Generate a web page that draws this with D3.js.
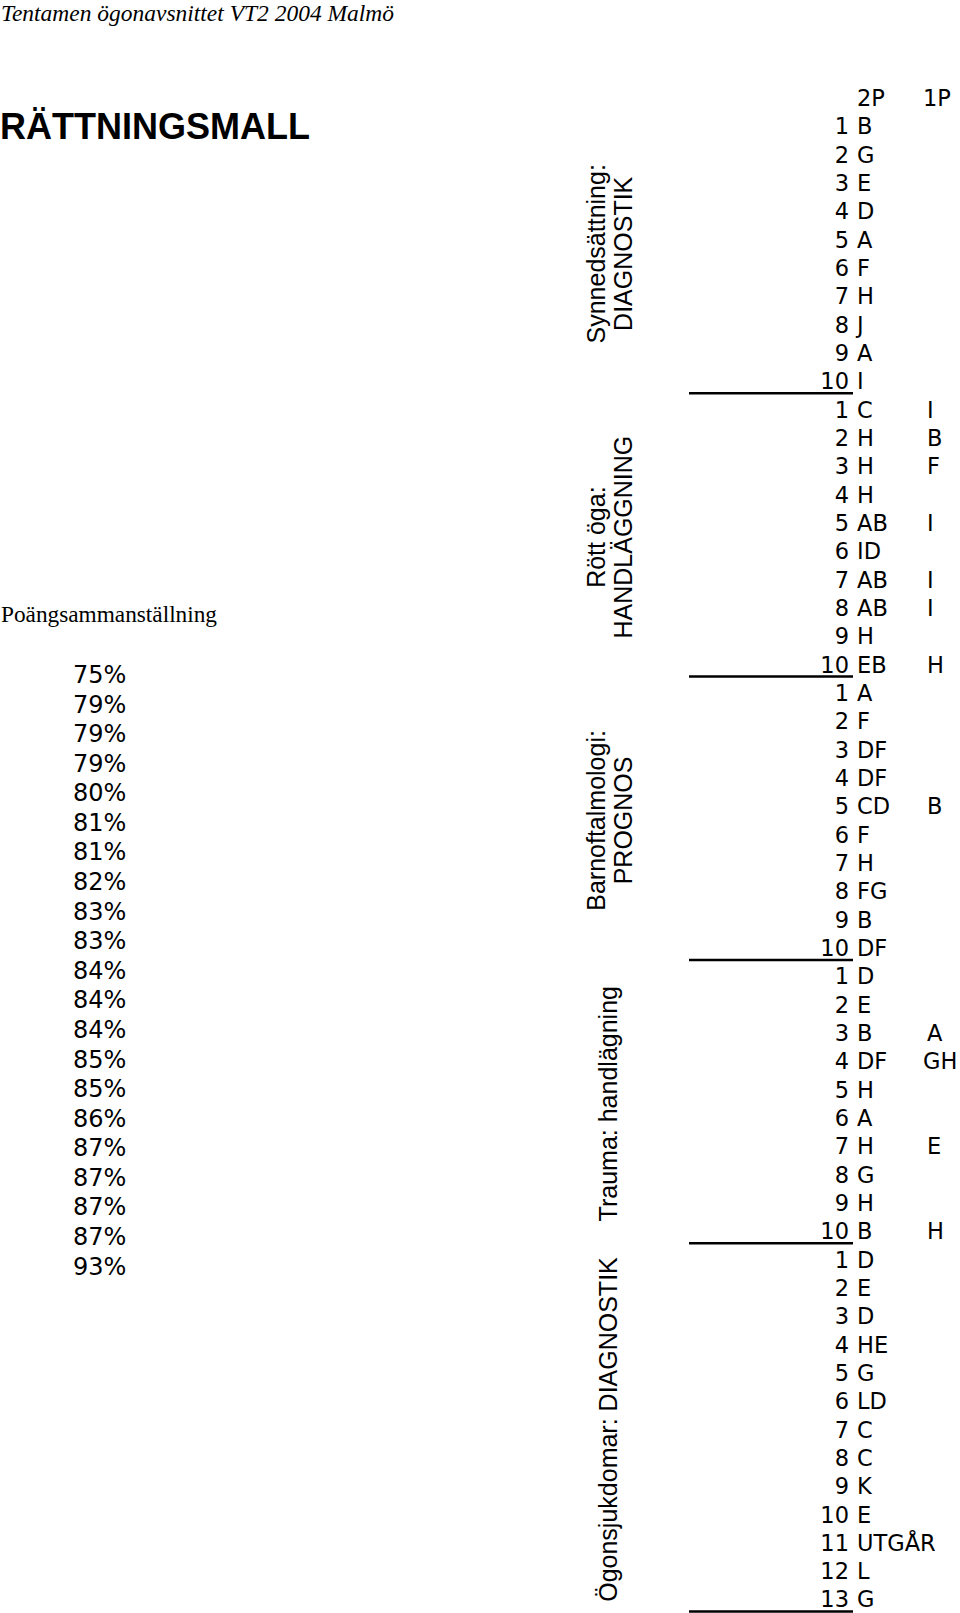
<!DOCTYPE html>
<html>
<head>
<meta charset="utf-8">
<script src="https://cdn.jsdelivr.net/npm/d3@7"></script>
<style>
  html, body { margin: 0; padding: 0; background: #fff; }
  svg { display: block; }
</style>
</head>
<body>
<div id="chart"></div>
<script>
// ---------- data ----------
const pageTitle = "Tentamen ögonavsnittet VT2 2004 Malmö";
const heading = "RÄTTNINGSMALL";
const summaryTitle = "Poängsammanställning";
const percentages = [75, 79, 79, 79, 80, 81, 81, 82, 83, 83, 84, 84, 84, 85, 85, 86, 87, 87, 87, 87, 93];

const columnHeaders = ["2P", "1P"];
const groupLabels = [
  ["Synnedsättning:", "DIAGNOSTIK"],
  ["Rött öga:", "HANDLÄGGNING"],
  ["Barnoftalmologi:", "PROGNOS"],
  ["Trauma: handlägning"],
  ["Ögonsjukdomar: DIAGNOSTIK"]
];
const answers2P = [
  ["B", "G", "E", "D", "A", "F", "H", "J", "A", "I"],
  ["C", "H", "H", "H", "AB", "ID", "AB", "AB", "H", "EB"],
  ["A", "F", "DF", "DF", "CD", "F", "H", "FG", "B", "DF"],
  ["D", "E", "B", "DF", "H", "A", "H", "G", "H", "B"],
  ["D", "E", "D", "HE", "G", "LD", "C", "C", "K", "E", "UTGÅR", "L", "G"]
];
const answers1P = [
  ["", "", "", "", "", "", "", "", "", ""],
  ["I", "B", "F", "", "I", "", "I", "I", "", "H"],
  ["", "", "", "", "B", "", "", "", "", ""],
  ["", "", "A", "GH", "", "", "E", "", "", "H"],
  ["", "", "", "", "", "", "", "", "", "", "", "", ""]
];

// ---------- layout ----------
const W = 960, H = 1613;
const svg = d3.select("#chart").append("svg").attr("width", W).attr("height", H);

const sans = "'DejaVu Sans', Verdana, sans-serif";
const arial = "'Liberation Sans', Arial, sans-serif";
const serif = "'Liberation Serif', 'Times New Roman', serif";

// header texts
svg.append("text")
  .attr("x", 1).attr("y", 21)
  .attr("font-family", serif).attr("font-style", "italic").attr("font-size", 23)
  .attr("textLength", 393).attr("lengthAdjust", "spacingAndGlyphs")
  .text(pageTitle);

svg.append("text")
  .attr("x", 0).attr("y", 139)
  .attr("font-family", arial).attr("font-weight", "bold").attr("font-size", 36)
  .text(heading);

svg.append("text")
  .attr("x", 1).attr("y", 622)
  .attr("font-family", serif).attr("font-size", 23)
  .attr("textLength", 216).attr("lengthAdjust", "spacingAndGlyphs")
  .text(summaryTitle);

// percentages list
const yPct = d3.scaleLinear().domain([0, percentages.length - 1]).range([683, 1274.6]);
svg.append("g").selectAll("text").data(percentages).join("text")
  .attr("x", 73)
  .attr("y", (d, i) => yPct(i))
  .attr("font-family", sans).attr("font-size", 24)
  .text(d => d + "%");

// answer table
const totalRows = 1 + d3.sum(answers2P, a => a.length); // header + all questions
const yRow = d3.scaleLinear().domain([0, totalRows - 1]).range([106, 106 + 28.33 * (totalRows - 1)]);
const xNum = 849, x2P = 857, x1P = 927;

const table = svg.append("g").attr("font-family", sans).attr("font-size", 22.5);

// column headers
table.append("text").attr("x", x2P).attr("y", yRow(0)).text(columnHeaders[0]);
table.append("text").attr("x", x1P - 4).attr("y", yRow(0)).text(columnHeaders[1]);

let start = 1;
const groups = [];
answers2P.forEach((ans, g) => {
  const rows = ans.map((a, k) => ({ g, k, num: k + 1, a2: a, a1: answers1P[g][k], r: start + k }));
  groups.push({ g, first: start, last: start + ans.length - 1, labels: groupLabels[g] });
  start += ans.length;
  const gg = table.append("g");
  gg.selectAll("text.num").data(rows).join("text").attr("class", "num")
    .attr("x", xNum).attr("y", d => yRow(d.r)).attr("text-anchor", "end").text(d => d.num);
  gg.selectAll("text.a2").data(rows).join("text").attr("class", "a2")
    .attr("x", x2P).attr("y", d => yRow(d.r)).text(d => d.a2);
  gg.selectAll("text.a1").data(rows.filter(d => d.a1)).join("text").attr("class", "a1")
    .attr("x", d => d.a1.length > 1 ? x1P - 4 : x1P).attr("y", d => yRow(d.r)).text(d => d.a1);
});

// separator lines under each group
svg.append("g").selectAll("line").data(groups).join("line")
  .attr("x1", 689).attr("x2", 853)
  .attr("y1", d => yRow(d.last) + 4).attr("y2", d => yRow(d.last) + 4)
  .attr("stroke", "#000").attr("stroke-width", 2.5);

// rotated group labels
const lab = svg.append("g").attr("font-family", arial).attr("font-size", 25);
groups.forEach(gr => {
  const cy = (yRow(gr.first) + yRow(gr.last)) / 2 - 8;
  const lines = gr.labels;
  const bases = lines.length === 2 ? [605, 632] : [617];
  lines.forEach((t, j) => {
    lab.append("text")
      .attr("transform", `translate(${bases[j]},${cy}) rotate(-90)`)
      .attr("text-anchor", "middle")
      .text(t);
  });
});
</script>
</body>
</html>
